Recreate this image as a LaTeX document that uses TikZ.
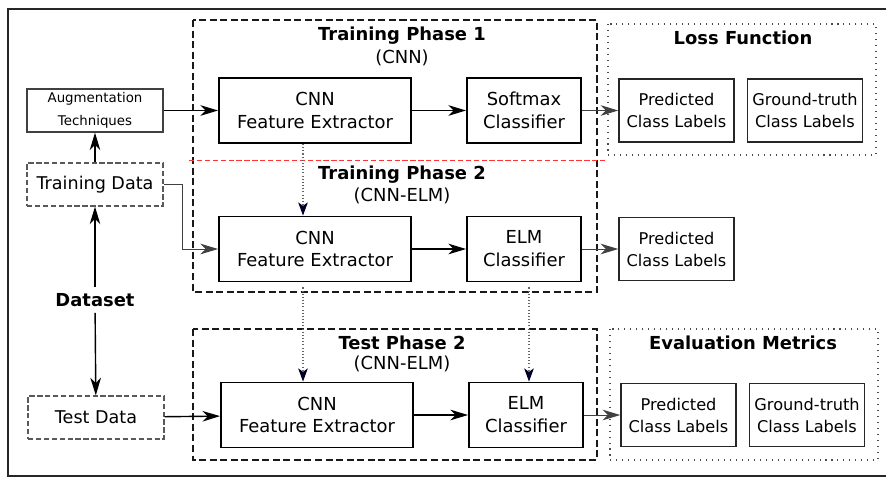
\documentclass[tikz,border=0pt]{standalone}
\usepackage{fontspec}
\setmainfont{DejaVu Sans}
\usetikzlibrary{arrows.meta}
\tikzstyle{block}=[rectangle, draw=black, line width=1.1pt, minimum width=3.84cm, minimum height=1.3cm, inner sep=0pt, align=center, font=\fontsize{10.2}{13}\selectfont]
\tikzstyle{clf}=[block, minimum width=2.28cm]
\tikzstyle{lbl}=[rectangle, draw=black!85, line width=0.9pt, minimum width=2.3cm, minimum height=1.26cm, inner sep=0pt, align=center, font=\fontsize{9.2}{12.5}\selectfont]
\tikzstyle{databox}=[rectangle, draw=black!65, line width=0.7pt, dash pattern=on 3pt off 1.5pt, minimum width=2.72cm, minimum height=0.86cm, inner sep=0pt, font=\fontsize{10}{12}\selectfont]
\tikzstyle{augbox}=[rectangle, draw=black!75, line width=0.7pt, minimum width=2.72cm, minimum height=0.86cm, inner sep=0pt, align=center, font=\fontsize{7.6}{13}\selectfont]
\tikzstyle{phase}=[draw=black!90, line width=1.1pt, dash pattern=on 4pt off 2pt]
\tikzstyle{group}=[draw=black!70, line width=0.7pt, dash pattern=on 0.6pt off 2.8pt]
\tikzstyle{title}=[align=center, font=\fontsize{10.2}{12}\selectfont\bfseries]
\tikzstyle{annot}=[align=center, font=\fontsize{10.2}{12}\selectfont]
\tikzstyle{flow}=[-{Stealth[length=10pt, width=6pt, inset=3pt]}, line width=0.8pt]
\tikzstyle{thinflow}=[flow, line width=0.5pt, draw=black!75]
\tikzstyle{reuse}=[-{Stealth[length=7.5pt, width=5.5pt, inset=2pt, color=blue!15!black]}, line width=0.6pt, draw=black!60, dash pattern=on 0.6pt off 1.2pt]

\begin{document}
\begin{tikzpicture}[x=0.02cm, y=-0.02cm]
	\useasboundingbox (0,0) rectangle (886,477);
	\draw[line width=0.8pt, black!85] (8,9) rectangle (892,476);

	% containers
	\draw[phase] (193,20) rectangle (597,292);
	\draw[phase] (193,329) rectangle (597,460);
	\draw[group] (608,24) rectangle (876,155);
	\draw[group] (610,329) rectangle (878,460);
	\draw[red!80, line width=0.5pt, dash pattern=on 3pt off 1.5pt] (189,160) -- (606,160);

	% titles
	\node[title] (tp1) at (402,36) {Training Phase 1};
	\node[annot] (tp1sub) at (402,58) {(CNN)};
	\node[title] (tp2) at (402,175) {Training Phase 2};
	\node[annot] (tp2sub) at (402,196) {(CNN-ELM)};
	\node[title] (ts2) at (402,343) {Test Phase 2};
	\node[annot] (ts2sub) at (402,364) {(CNN-ELM)};
	\node[title] (loss) at (743,38) {Loss Function};
	\node[title] (evalm) at (743,343) {Evaluation Metrics};

	% data
	\node[augbox] (aug) at (95,110.5) {Augmentation\\Techniques};
	\node[databox] (traindata) at (95,184.5) {Training Data};
	\node[title] (dataset) at (95,300) {Dataset};
	\node[databox] (testdata) at (96,417.5) {Test Data};

	% row 1
	\node[block] (fe1) at (315,110.5) {CNN\\Feature Extractor};
	\node[clf] (softmax) at (524,110.5) {Softmax\\Classifier};
	\node[lbl] (pred1) at (676.5,110.5) {Predicted\\Class Labels};
	\node[lbl] (gt1) at (805,110.5) {Ground-truth\\Class Labels};

	% row 2
	\node[block] (fe2) at (315,249) {CNN\\Feature Extractor};
	\node[clf] (elm2) at (524,249) {ELM\\Classifier};
	\node[lbl] (pred2) at (676.5,249) {Predicted\\Class Labels};

	% row 3
	\node[block] (fe3) at (317,415) {CNN\\Feature Extractor};
	\node[clf] (elm3) at (526,415) {ELM\\Classifier};
	\node[lbl] (pred3) at (678.5,415) {Predicted\\Class Labels};
	\node[lbl] (gt3) at (807,415) {Ground-truth\\Class Labels};

	\draw[flow] (dataset) -- (traindata);
	\draw[flow] (dataset) -- (testdata);
	\draw[flow] (traindata) -- (aug);
	\draw[flow] (aug) -- (fe1);
	\draw[thinflow] (traindata.east) -- ++(19,0) |- (fe2.west);
	\draw[flow] (testdata) -- (fe3);

	\draw[flow] (fe1) -- (softmax);
	\draw[thinflow] (softmax) -- (pred1);
	\draw[flow] (fe2) -- (elm2);
	\draw[thinflow] (elm2) -- (pred2);
	\draw[flow] (fe3) -- (elm3);
	\draw[thinflow] (elm3) -- (pred3);

	\draw[reuse] ([xshift=-0.24cm]fe1.south) -- ([xshift=-0.24cm]fe1.south |- fe2.north);
	\draw[reuse] ([xshift=-0.24cm,yshift=-0.1cm]fe2.south) -- ([xshift=-0.24cm]fe2.south |- fe3.north);
	\draw[reuse] ([xshift=0.1cm,yshift=-0.1cm]elm2.south) -- ([xshift=0.1cm]elm2.south |- elm3.north);
\end{tikzpicture}
\end{document}
